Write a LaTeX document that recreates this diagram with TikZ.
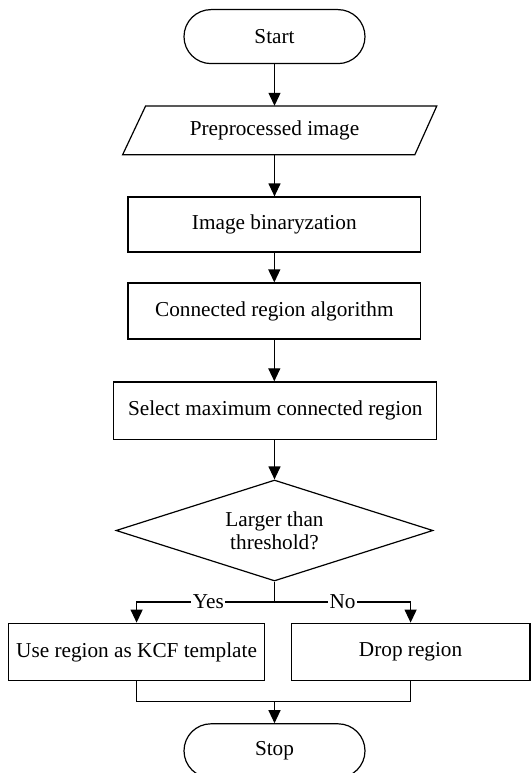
\documentclass[tikz,border=0pt]{standalone}
\usepackage{fontspec}
\setmainfont{Liberation Serif}
\usetikzlibrary{shapes.geometric,arrows.meta}
\begin{document}
\begin{tikzpicture}[x=1pt,y=-1pt,
  every node/.style={font=\fontsize{21.25}{22.7}\selectfont, inner sep=2pt},
  line/.style={line width=1.2pt},
  arrow/.style={line width=1.2pt,-{Triangle[length=13pt,width=12pt]}},
  term/.style={draw,line width=1.2pt,rounded corners=27pt,minimum width=181pt,minimum height=54pt},
  procbox/.style={draw,line width=1.2pt,rectangle},
  ioshape/.style={minimum height=48.8pt,minimum width=270pt},
  decision/.style={draw,line width=1.2pt,shape=diamond,aspect=3,minimum width=317pt,minimum height=101pt,inner sep=0pt,align=center},
  lbl/.style={fill=white,inner sep=1.5pt}]
\fill[white] (0,0) rectangle (531,773);
\useasboundingbox (0,0) rectangle (531,773);

\node[term] (start) at (274.5,36.6) {Start};
\node[ioshape] (pre) at (274.5,130.4) {Preprocessed image};
\draw[line] (122.6,154.8) -- (145.6,106) -- (436.8,106) -- (414.8,154.8) -- cycle;
\node[procbox,minimum width=292.6pt,minimum height=55pt] (bin) at (274.3,224.5) {Image binaryzation};
\node[procbox,minimum width=292.6pt,minimum height=56pt] (con) at (274.3,311) {Connected region algorithm};
\node[procbox,minimum width=323pt,minimum height=57.6pt] (sel) at (275.3,410.7) {Select maximum connected region};
\node[decision] (dec) at (274.5,530.5) {Larger than\\threshold?};
\node[procbox,minimum width=256.3pt,minimum height=57.6pt] (use) at (136.6,652) {Use region as KCF template};
\node[procbox,minimum width=238.8pt,minimum height=57.6pt] (drop) at (410.6,652) {Drop region};
\node[term] (stop) at (274.5,750.8) {Stop};

\coordinate (br) at (274.5,601.9);
\coordinate (mg) at (274.5,701.7);

\draw[arrow] (start.south) -- (pre.north);
\draw[arrow] (pre.south) -- (pre.south |- bin.north);
\draw[arrow] (bin.south) -- (con.north);
\draw[arrow] (con.south) -- (con.south |- sel.north);
\draw[arrow] (sel.south -| dec.north) -- (dec.north);
\draw[line] (dec.south) -- (br);
\draw[arrow] (br) -| node[lbl,pos=0.24]{Yes} (use.north);
\draw[arrow] (br) -| node[lbl,pos=0.25]{No} (drop.north);
\draw[line] (use.south) -- (use.south |- mg) -- (drop.south |- mg) -- (drop.south);
\draw[arrow] (mg) -- (stop.north);
\end{tikzpicture}
\end{document}
